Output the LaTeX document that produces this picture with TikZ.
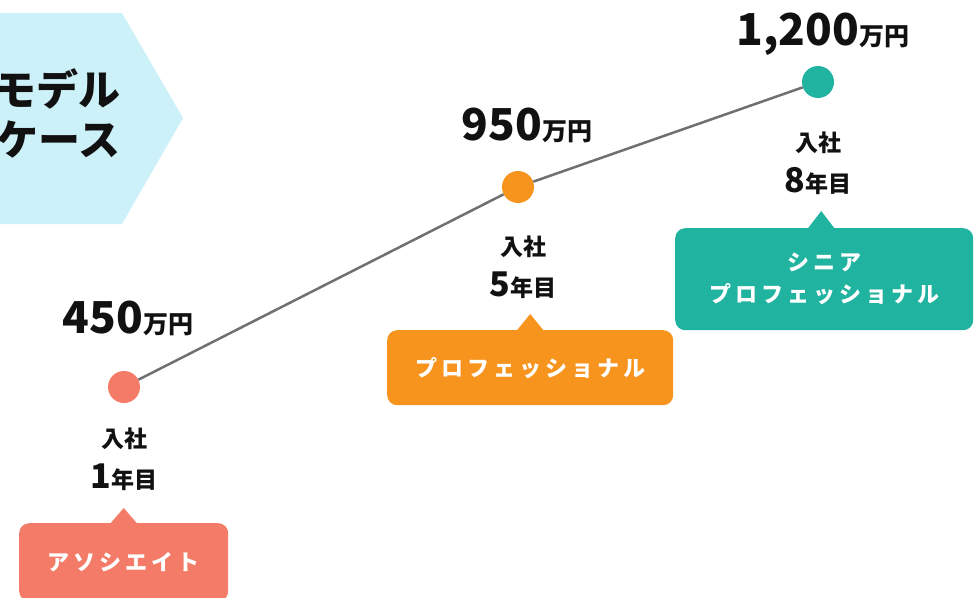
\documentclass[tikz,border=0pt]{standalone}
\usepackage{fontspec}
\setmainfont{Noto Sans CJK JP}
\newfontfamily\spacedjp[LetterSpace=18]{Noto Sans CJK JP}
\usepackage{xcolor}
\definecolor{model-bg}{RGB}{205,241,248}
\definecolor{line-gray}{RGB}{112,112,112}
\definecolor{text-dark}{RGB}{17,17,17}
\definecolor{associate-dark}{RGB}{244,123,103}
\definecolor{pro-dark}{RGB}{247,148,30}
\definecolor{senior-dark}{RGB}{31,179,160}
\usetikzlibrary{positioning}

\newcommand{\manyen}{{\fontsize{25}{25}\selectfont 万円}}
\newcommand{\bignum}[1]{{\fontsize{34}{41}\selectfont #1}}

\begin{document}
\begin{tikzpicture}[x=1pt, y=-1pt,
    career dot/.style={circle, fill=#1, minimum size=32pt, inner sep=0pt},
    amount/.style={font=\bfseries\fontsize{44}{44}\selectfont, text=text-dark, inner sep=0pt, anchor=base},
    join label/.style={font=\bfseries\fontsize{23}{41}\selectfont, text=text-dark, align=center, inner sep=0pt, anchor=base},
    role box/.style={rounded corners=10pt, fill=#1, text=white, inner sep=0pt, align=center, anchor=north west,
        font=\spacedjp\bfseries\fontsize{22}{32}\selectfont}
]
\useasboundingbox (0,0) rectangle (974,597);
\clip (0,0) rectangle (974,597);

% Model case tag on the left edge
\fill[model-bg] (0,13) -- (122,13) -- (183,118) -- (122,224) -- (0,224) -- cycle;
\node[font=\bfseries\fontsize{42}{42}\selectfont, text=text-dark, inner sep=0pt, anchor=base east] (model1) at (121,105) {モデル};
\node[font=\bfseries\fontsize{42}{42}\selectfont, text=text-dark, inner sep=0pt, anchor=base east] (model2) at (121,155) {ケース};

% Salary points
\node[career dot=associate-dark] (dot1) at (124,387) {};
\node[career dot=pro-dark] (dot2) at (518,187) {};
\node[career dot=senior-dark] (dot3) at (818,82) {};
\draw[line-gray, line width=2.5pt] (dot1) -- (dot2) -- (dot3);

% Amounts above each point
\node[amount] (amt1) at (128,333) {450\manyen};
\node[amount] (amt2) at (527,140) {950\manyen};
\node[amount] (amt3) at (823,45) {1,200\manyen};

% Years since joining (base = last line)
\node[join label] (year1) at (124,488) {入社\\\bignum{1}年目};
\node[join label] (year2) at (523,296) {入社\\\bignum{5}年目};
\node[join label] (year3) at (818,192) {入社\\\bignum{8}年目};

% Role callouts
\node[role box=associate-dark, minimum width=209, minimum height=78] (role1) at (19,523) {アソシエイト};
\fill[associate-dark] (role1.north) ++(-13,0) -- ++(13,-15) -- ++(13,15) -- cycle;

\node[role box=pro-dark, minimum width=286, minimum height=75] (role2) at (387,330) {プロフェッショナル};
\fill[pro-dark] (role2.north) ++(-13,0) -- ++(13,-16) -- ++(13,16) -- cycle;

\node[role box=senior-dark, minimum width=298, minimum height=102] (role3) at (675,228) {シニア\\プロフェッショナル};
\fill[senior-dark] (role3.north) ++(-16,0) -- ++(13,-17) -- ++(13,17) -- cycle;

\end{tikzpicture}
\end{document}
